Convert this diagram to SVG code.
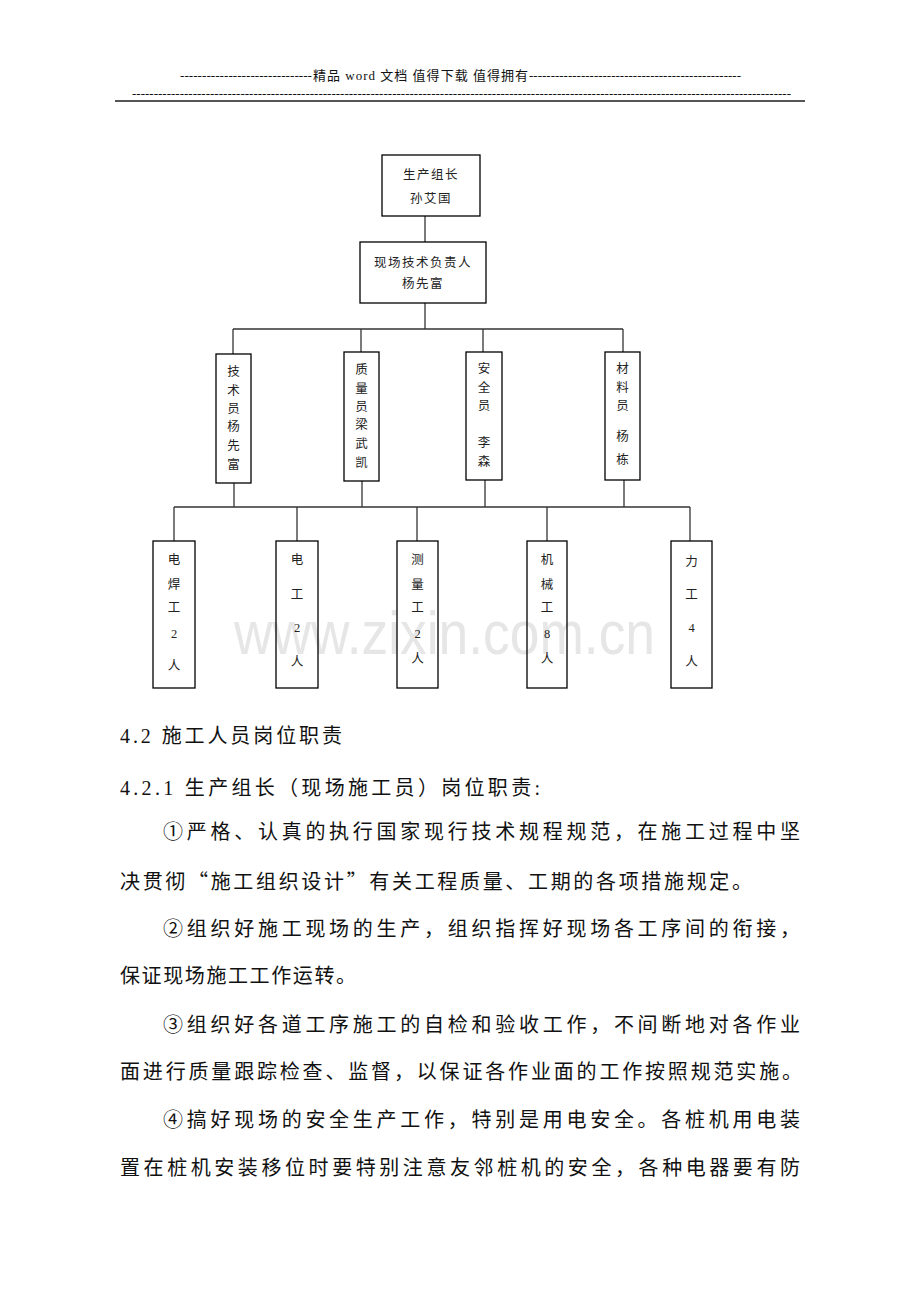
<svg xmlns="http://www.w3.org/2000/svg" width="920" height="1302" viewBox="0 0 920 1302">
<style>
.bg{fill:#ffffff}
.box{fill:none;stroke:#000000;stroke-width:1.3}
.conn{stroke:#333333;stroke-width:1.3;fill:none}
.t{font-family:"Liberation Serif","Noto Sans CJK SC",serif;font-size:12.5px;fill:#222222;text-anchor:middle;dominant-baseline:central}
.body{font-family:"Liberation Serif","Noto Sans CJK SC",serif;font-size:20px;fill:#111111;dominant-baseline:central}
.cjk{font-family:"Noto Sans CJK SC",sans-serif}
.hdr{font-family:"Liberation Serif","Noto Sans CJK SC",serif;font-size:13px;fill:#111111;dominant-baseline:central}
.wm{font-family:"Liberation Sans",Arial,sans-serif;font-size:62px;fill:#e6e6e6;dominant-baseline:central}
</style>
<rect class="bg" x="0" y="0" width="920" height="1302"/>

<g id="header">
<text class="hdr" x="180" y="75" textLength="132" lengthAdjust="spacingAndGlyphs">------------------------------</text>
<text class="hdr" x="313" y="75" textLength="215" lengthAdjust="spacing">精品 word 文档 值得下载 值得拥有</text>
<text class="hdr" x="529" y="75" textLength="212" lengthAdjust="spacingAndGlyphs">-------------------------------------------------</text>
<text class="hdr" x="132" y="93" textLength="659" lengthAdjust="spacingAndGlyphs">--------------------------------------------------------------------------------------------------------------------------------------------------------</text>
<line x1="115" y1="101" x2="805" y2="101" stroke="#555555" stroke-width="2"/>
</g>

<g id="watermark">
<text class="wm" x="234" y="632" textLength="421" lengthAdjust="spacingAndGlyphs">www.zixin.com.cn</text>
</g>

<g id="connectors">
<line class="conn" x1="425" y1="216" x2="425" y2="242"/>
<line class="conn" x1="425" y1="303" x2="425" y2="329"/>
<line class="conn" x1="233" y1="329" x2="623" y2="329"/>
<line class="conn" x1="233" y1="329" x2="233" y2="354"/>
<line class="conn" x1="361" y1="329" x2="361" y2="352"/>
<line class="conn" x1="483" y1="329" x2="483" y2="352"/>
<line class="conn" x1="623" y1="329" x2="623" y2="352"/>
<line class="conn" x1="234" y1="483" x2="234" y2="507"/>
<line class="conn" x1="362" y1="481" x2="362" y2="507"/>
<line class="conn" x1="485" y1="480" x2="485" y2="507"/>
<line class="conn" x1="624" y1="480" x2="624" y2="507"/>
<line class="conn" x1="174" y1="507" x2="690" y2="507"/>
<line class="conn" x1="174" y1="507" x2="174" y2="541"/>
<line class="conn" x1="297" y1="507" x2="297" y2="541"/>
<line class="conn" x1="417" y1="507" x2="417" y2="541"/>
<line class="conn" x1="547" y1="507" x2="547" y2="541"/>
<line class="conn" x1="690" y1="507" x2="690" y2="541"/>
</g>

<g id="node-leader">
<rect class="box" x="382" y="155" width="98" height="61"/>
<text class="t" x="431" y="175" letter-spacing="1.5">生产组长</text>
<text class="t" x="431" y="199" letter-spacing="1.5">孙艾国</text>
</g>

<g id="node-tech-head">
<rect class="box" x="360" y="242" width="126" height="61"/>
<text class="t" x="423" y="263" letter-spacing="1.5">现场技术负责人</text>
<text class="t" x="423" y="284" letter-spacing="1.5">杨先富</text>
</g>

<g id="node-technician">
<rect class="box" x="216" y="354" width="35" height="129"/>
<text class="t" x="233.5" y="372">技</text>
<text class="t" x="233.5" y="391">术</text>
<text class="t" x="233.5" y="409">员</text>
<text class="t" x="233.5" y="427">杨</text>
<text class="t" x="233.5" y="446">先</text>
<text class="t" x="233.5" y="465">富</text>
</g>

<g id="node-quality">
<rect class="box" x="344" y="352" width="35" height="129"/>
<text class="t" x="361.5" y="370">质</text>
<text class="t" x="361.5" y="389">量</text>
<text class="t" x="361.5" y="407">员</text>
<text class="t" x="361.5" y="425">梁</text>
<text class="t" x="361.5" y="444">武</text>
<text class="t" x="361.5" y="463">凯</text>
</g>

<g id="node-safety">
<rect class="box" x="466" y="352" width="36" height="128"/>
<text class="t" x="484" y="369">安</text>
<text class="t" x="484" y="388">全</text>
<text class="t" x="484" y="406">员</text>
<text class="t" x="484" y="443">李</text>
<text class="t" x="484" y="462">森</text>
</g>

<g id="node-material">
<rect class="box" x="605" y="352" width="35" height="128"/>
<text class="t" x="622.5" y="369">材</text>
<text class="t" x="622.5" y="388">料</text>
<text class="t" x="622.5" y="406">员</text>
<text class="t" x="622.5" y="437">杨</text>
<text class="t" x="622.5" y="460">栋</text>
</g>

<g id="node-welder">
<rect class="box" x="153" y="541" width="42" height="147"/>
<text class="t" x="174" y="560">电</text>
<text class="t" x="174" y="585">焊</text>
<text class="t" x="174" y="608">工</text>
<text class="t" x="174" y="634">2</text>
<text class="t" x="174" y="666">人</text>
</g>

<g id="node-electrician">
<rect class="box" x="276" y="541" width="42" height="147"/>
<text class="t" x="297" y="560">电</text>
<text class="t" x="297" y="595">工</text>
<text class="t" x="297" y="628">2</text>
<text class="t" x="297" y="662">人</text>
</g>

<g id="node-surveyor">
<rect class="box" x="397" y="541" width="41" height="147"/>
<text class="t" x="417.5" y="560">测</text>
<text class="t" x="417.5" y="585">量</text>
<text class="t" x="417.5" y="608">工</text>
<text class="t" x="417.5" y="634">2</text>
<text class="t" x="417.5" y="659">人</text>
</g>

<g id="node-mechanic">
<rect class="box" x="527" y="541" width="40" height="147"/>
<text class="t" x="547" y="560">机</text>
<text class="t" x="547" y="585">械</text>
<text class="t" x="547" y="608">工</text>
<text class="t" x="547" y="634">8</text>
<text class="t" x="547" y="659">人</text>
</g>

<g id="node-labourer">
<rect class="box" x="671" y="541" width="41" height="147"/>
<text class="t" x="691.5" y="562">力</text>
<text class="t" x="691.5" y="595">工</text>
<text class="t" x="691.5" y="628">4</text>
<text class="t" x="691.5" y="662">人</text>
</g>

<g id="body-text">
<text class="body" x="120" y="736" textLength="222" lengthAdjust="spacing">4.2 施工人员岗位职责</text>
<text class="body" x="120" y="788" textLength="420" lengthAdjust="spacing">4.2.1 生产组长（现场施工员）岗位职责:</text>
<text class="body" x="163" y="832" textLength="637" lengthAdjust="spacing">①严格、认真的执行国家现行技术规程规范，在施工过程中坚</text>
<text class="body cjk" x="120" y="880" textLength="632" lengthAdjust="spacing">决贯彻“施工组织设计”有关工程质量、工期的各项措施规定。</text>
<text class="body" x="163" y="929" textLength="637" lengthAdjust="spacing">②组织好施工现场的生产，组织指挥好现场各工序间的衔接，</text>
<text class="body" x="120" y="976" textLength="236" lengthAdjust="spacing">保证现场施工工作运转。</text>
<text class="body" x="163" y="1025" textLength="637" lengthAdjust="spacing">③组织好各道工序施工的自检和验收工作，不间断地对各作业</text>
<text class="body" x="120" y="1072" textLength="682" lengthAdjust="spacing">面进行质量跟踪检查、监督，以保证各作业面的工作按照规范实施。</text>
<text class="body" x="163" y="1120" textLength="637" lengthAdjust="spacing">④搞好现场的安全生产工作，特别是用电安全。各桩机用电装</text>
<text class="body" x="120" y="1168" textLength="680" lengthAdjust="spacing">置在桩机安装移位时要特别注意友邻桩机的安全，各种电器要有防</text>
</g>
</svg>
